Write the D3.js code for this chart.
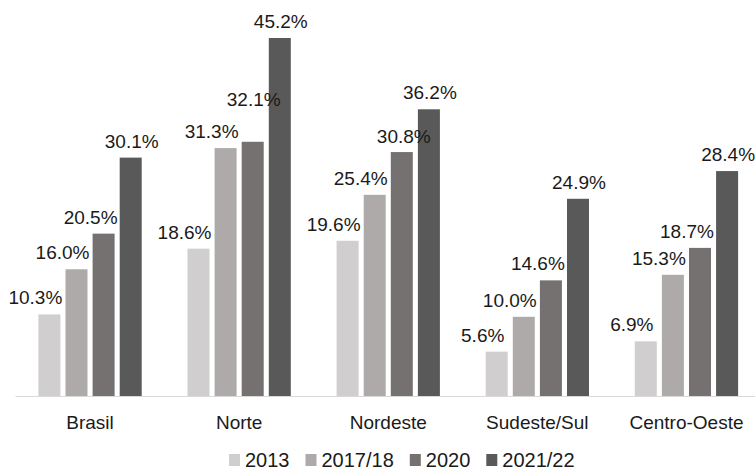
<!DOCTYPE html>
<html>
<head>
<meta charset="utf-8">
<script src="https://cdn.jsdelivr.net/npm/d3@7"></script>
<style>
  html, body { margin: 0; padding: 0; background: #fff; }
  svg { display: block; }
  text { font-family: "Liberation Sans", Arial, sans-serif; fill: #1a1a1a; }
</style>
</head>
<body>
<div id="chart"></div>
<script>
// ---- data ----
const categories = ["Brasil", "Norte", "Nordeste", "Sudeste/Sul", "Centro-Oeste"];
const seriesNames = ["2013", "2017/18", "2020", "2021/22"];
const v2013   = [10.3, 18.6, 19.6, 5.6, 6.9];
const v201718 = [16.0, 31.3, 25.4, 10.0, 15.3];
const v2020   = [20.5, 32.1, 30.8, 14.6, 18.7];
const v202122 = [30.1, 45.2, 36.2, 24.9, 28.4];
const seriesValues = [v2013, v201718, v2020, v202122];
const colors = ["#d0cece", "#aeaaaa", "#767171", "#595959"];

// ---- layout ----
const W = 755, H = 471;
const baseY = 396;
const svg = d3.select("#chart").append("svg").attr("width", W).attr("height", H);

const x0 = d3.scaleBand().domain(categories).range([15.5, 761]).paddingInner(0).paddingOuter(0);
const groupInner = 103.3;
const x1 = d3.scaleBand().domain(seriesNames)
  .range([(x0.bandwidth() - groupInner) / 2, (x0.bandwidth() + groupInner) / 2])
  .paddingInner(0.188).paddingOuter(0);
const y = d3.scaleLinear().domain([0, 50]).range([baseY, 0]);

// label nudges (Excel manually placed labels)
const seriesLabelDx = [-14, -14, -13, 1];
const labelDy = -10;
const labelExceptions = { "Norte|2020": { dx: 1, dy: -36 }, "Nordeste|2020": { dx: 2, dy: -9 } };

const rows = [];
categories.forEach((c, i) => {
  seriesNames.forEach((s, j) => rows.push({ cat: c, ser: s, j, value: seriesValues[j][i] }));
});

// bars
svg.append("g").selectAll("rect").data(rows).join("rect")
  .attr("x", d => x0(d.cat) + x1(d.ser))
  .attr("y", d => y(d.value))
  .attr("width", x1.bandwidth())
  .attr("height", d => y(0) - y(d.value))
  .attr("fill", d => colors[d.j]);

// axis baseline
svg.append("line")
  .attr("x1", x0.range()[0]).attr("x2", x0.range()[1])
  .attr("y1", baseY + 0.5).attr("y2", baseY + 0.5)
  .attr("stroke", "#d9d9d9").attr("stroke-width", 1);

// value labels
svg.append("g").selectAll("text").data(rows).join("text")
  .attr("x", d => {
    const ex = labelExceptions[d.cat + "|" + d.ser];
    return x0(d.cat) + x1(d.ser) + x1.bandwidth() / 2 + (ex ? ex.dx : seriesLabelDx[d.j]);
  })
  .attr("y", d => {
    const ex = labelExceptions[d.cat + "|" + d.ser];
    return y(d.value) + (ex ? ex.dy : labelDy);
  })
  .attr("text-anchor", "middle")
  .attr("font-size", 19)
  .text(d => d.value.toFixed(1) + "%");

// category axis labels
const xAxis = d3.axisBottom(x0).tickSize(0).tickPadding(0);
const gx = svg.append("g").attr("transform", `translate(0,${baseY})`).call(xAxis);
gx.select(".domain").remove();
gx.selectAll("text")
  .attr("font-size", 19)
  .attr("font-family", "Liberation Sans, Arial, sans-serif")
  .attr("fill", "#1a1a1a")
  .attr("dy", null)
  .attr("y", 33);

// legend
const legend = svg.append("g");
const items = legend.selectAll("g").data(seriesNames).join("g");
items.append("rect").attr("width", 11).attr("height", 12).attr("y", 454)
  .attr("fill", (d, i) => colors[i]);
items.append("text").attr("x", 16).attr("y", 467).attr("font-size", 20).text(d => d);
let cx = 0;
const legendGap = 16;
items.each(function () {
  const w = 16 + d3.select(this).select("text").node().getComputedTextLength();
  d3.select(this).attr("transform", `translate(${cx},0)`);
  cx += w + legendGap;
});
const totalW = cx - legendGap;
legend.attr("transform", `translate(${229},0)`);
</script>
</body>
</html>
